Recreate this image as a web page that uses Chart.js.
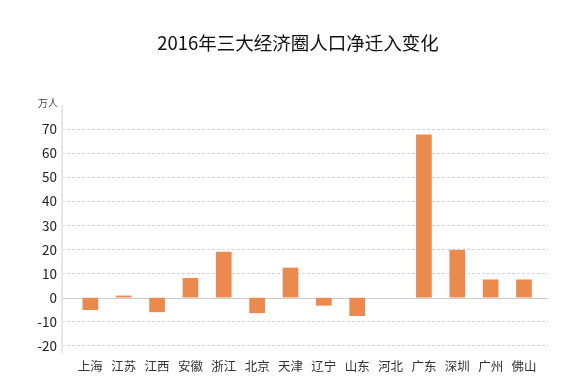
<!DOCTYPE html>
<html>
<head>
<meta charset="utf-8">
<script src="https://cdn.jsdelivr.net/npm/chart.js@4/dist/chart.umd.min.js"></script>
<style>
html,body{margin:0;padding:0;background:#fff;}
#wrap{width:582px;height:381px;position:relative;}
</style>
</head>
<body>
<div id="wrap"><canvas id="c" width="582" height="381"></canvas></div>
<script>
const title = "2016年三大经济圈人口净迁入变化";
const unitLabel = "万人";
const categories = ["上海","江苏","江西","安徽","浙江","北京","天津","辽宁","山东","河北","广东","深圳","广州","佛山"];
const values = [-5, 0.7, -5.9, 8, 18.9, -6.3, 12.3, -3.2, -7.5, 0, 67.6, 19.7, 7.4, 7.4];
const yTicks = [-20, -10, 0, 10, 20, 30, 40, 50, 60, 70];

const FONT = "'Noto Sans CJK SC', 'Noto Sans', sans-serif";

const decor = {
  id: 'decor',
  beforeDatasetsDraw(chart) {
    const {ctx, chartArea, scales} = chart;
    const y0 = Math.round(scales.y.getPixelForValue(0)) + 0.5;
    ctx.save();
    ctx.strokeStyle = '#c8c8c8';
    ctx.lineWidth = 1;
    ctx.beginPath();
    ctx.moveTo(chartArea.left, y0);
    ctx.lineTo(chartArea.right, y0);
    ctx.stroke();
    ctx.strokeStyle = '#e6e6e6';
    ctx.lineWidth = 2;
    ctx.beginPath();
    ctx.moveTo(chartArea.left, chartArea.top);
    ctx.lineTo(chartArea.left, chartArea.bottom);
    ctx.stroke();
    ctx.restore();
  },
  afterDraw(chart) {
    const {ctx, chartArea} = chart;
    ctx.save();
    ctx.fillStyle = '#111';
    ctx.font = "18.5px " + FONT;
    ctx.textAlign = 'center';
    ctx.textBaseline = 'middle';
    ctx.fillText(title, 298, 43);
    ctx.fillStyle = '#444';
    ctx.font = "10px " + FONT;
    ctx.textAlign = 'right';
    ctx.fillText(unitLabel, chartArea.left - 4, chartArea.top - 2);
    ctx.restore();
  }
};

new Chart(document.getElementById('c'), {
  type: 'bar',
  data: {
    datasets: [{
      data: categories.map((c, i) => ({x: i, y: values[i]})),
      backgroundColor: (ctx) => (ctx.raw && ctx.raw.y === 0) ? 'rgba(0,0,0,0)' : '#EB8A4C',
      borderWidth: 0,
      barThickness: 15
    }]
  },
  plugins: [decor],
  options: {
    responsive: false,
    animation: false,
    layout: {padding: {left: 0, right: 34, top: 105, bottom: 0}},
    plugins: {legend: {display: false}, tooltip: {enabled: false}, title: {display: false}},
    scales: {
      x: {
        type: 'linear',
        offset: false,
        min: -0.85,
        max: 13.72,
        grid: {display: false, drawTicks: false, offset: false},
        border: {display: false},
        afterBuildTicks: (s) => { s.ticks = categories.map((c, i) => ({value: i})); },
        afterFit: (s) => { s.height = 28; },
        ticks: {
          autoSkip: false,
          maxRotation: 0,
          padding: 6,
          color: '#333',
          font: {family: FONT, size: 12.5},
          callback: (v) => categories[v] !== undefined ? categories[v] : ''
        }
      },
      y: {
        min: -23,
        max: 80,
        afterBuildTicks: (s) => { s.ticks = yTicks.map(v => ({value: v})); },
        afterFit: (s) => { s.width = 62; },
        grid: {
          drawTicks: false,
          color: (ctx) => (ctx.tick && ctx.tick.value === 0) ? 'rgba(0,0,0,0)' : '#d4d4d4',
          lineWidth: 1
        },
        border: {display: false, dash: [3, 2]},
        ticks: {
          padding: 5,
          color: '#222',
          font: {family: FONT, size: 13.5}
        }
      }
    }
  }
});
</script>
</body>
</html>
